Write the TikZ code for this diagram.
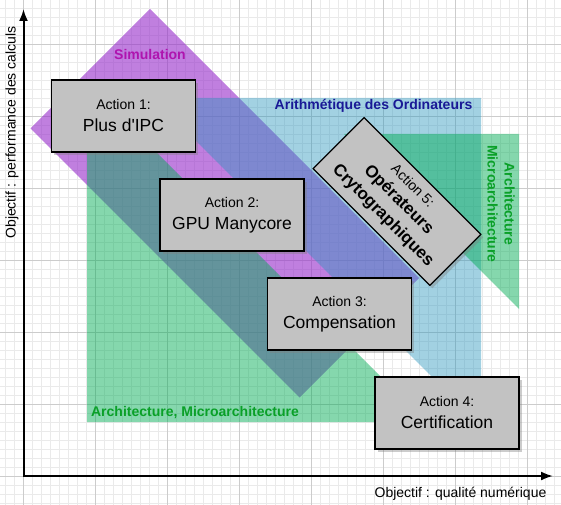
\documentclass[tikz,border=0pt]{standalone}
\usepackage{fontspec}
\setmainfont{Liberation Sans}
\usetikzlibrary{arrows.meta, % For the axis tips
                 positioning,
                 shadows,     % For the box shadows
               }
\definecolor{boxgray}{RGB}{194,194,194}
\definecolor{simpurple}{RGB}{150,43,203}
\definecolor{arithblue}{RGB}{40,150,190}
\definecolor{archgreen}{RGB}{0,172,84}
\definecolor{simtext}{RGB}{175,20,175}
\definecolor{arithtext}{RGB}{25,25,150}
\definecolor{archtext}{RGB}{10,160,40}
\definecolor{minorgrid}{RGB}{234,234,234}
\definecolor{majorgrid}{RGB}{204,204,204}
\newcommand{\actsmall}{\fontsize{14bp}{17bp}\selectfont}
\newcommand{\actbig}{\fontsize{17.5bp}{21bp}\selectfont}
\newcommand{\actbold}{\fontsize{17bp}{21bp}\selectfont\bfseries}
\tikzstyle{minorline} = [draw=minorgrid, line width=0.8bp]
\tikzstyle{majorline} = [draw=majorgrid, line width=0.8bp]
\tikzstyle{axis} = [line width=2bp, {Latex[length=12bp, width=9bp]}-{Latex[length=12bp, width=9bp]}]
\tikzstyle{simzone} = [fill=simpurple, fill opacity=0.6]
\tikzstyle{arithzone} = [fill=arithblue, fill opacity=0.43]
\tikzstyle{archzone} = [fill=archgreen, fill opacity=0.48]
\tikzstyle{zonelabel} = [font=\fontsize{14bp}{17bp}\selectfont\bfseries, align=center]
\tikzstyle{action} = [rectangle, draw=black, line width=1.2bp, fill=boxgray, minimum width=144bp, minimum height=72bp, align=center, font=\actsmall, drop shadow={shadow xshift=2.5bp, shadow yshift=-3bp, opacity=0.4}]
\tikzstyle{axislabel} = [font=\actsmall]
\begin{document}
\begin{tikzpicture}[x=1bp, y=-1bp]
  \useasboundingbox (0,0) rectangle (561,505);
  \fill[white] (0,0) rectangle (561,505);
  % grid
  \foreach \i in {0,...,61} \draw[minorline] ({5.5+9*\i},0) -- ({5.5+9*\i},505);
  \foreach \j in {0,...,55} \draw[minorline] (0,{8+9*\j}) -- (561,{8+9*\j});
  \foreach \i in {0,...,7} \draw[majorline] ({23.5+72*\i},0) -- ({23.5+72*\i},505);
  \foreach \j in {0,...,6} \draw[majorline] (0,{44+72*\j}) -- (561,{44+72*\j});
  % zones
  \path[simzone] (150,9) -- (419,278) -- (299.5,397.5) -- (30.5,128.5) -- cycle;
  \path[arithzone] (153,98) -- (481,98) -- (481,426) -- cycle;
  \path[archzone] (87,83) -- (87,422) -- (426,422) -- cycle;
  \path[archzone] (344,134) -- (519,134) -- (519,309) -- cycle;
  \node (sim) [zonelabel, text=simtext] at (150,54) {Simulation};
  \node (arith) [zonelabel, text=arithtext] at (373.5,106) {Arithmétique des Ordinateurs};
  \node (arch) [zonelabel, text=archtext] at (195,413) {Architecture, Microarchitecture};
  \node (archright) [zonelabel, text=archtext, rotate=-90] at (501,204) {Architecture\\Microarchitecture};
  % axes
  \coordinate (origin) at (23.5,476);
  \coordinate (xmax) at (553,476);
  \coordinate (ymax) at (23.5,9);
  \draw[axis] (ymax) -- (origin) -- (xmax);
  \node (xlabel) [axislabel] at (460.5,494) {Objectif : qualité numérique};
  \node (ylabel) [axislabel, rotate=90] at (12,132.5) {Objectif : performance des calculs};
  % actions
  \node (act1) [action] at (123.5,116) {Action 1:\\[5bp]\actbig Plus d\textquotesingle IPC};
  \node (act2) [action] at (232,215) {Action 2:\\[5bp]\actbig GPU Manycore};
  \node (act3) [action] at (339.5,314) {Action 3:\\[5bp]\actbig Compensation};
  \node (act4) [action] at (447,413) {Action 4:\\[5bp]\actbig Certification};
  \node (act5) [action, rotate=-45, minimum width=165bp] at (397,201.5) {Action 5:\\[3bp]\actbold Opérateurs\\[5bp]\actbold Crytographiques};
\end{tikzpicture}
\end{document}
